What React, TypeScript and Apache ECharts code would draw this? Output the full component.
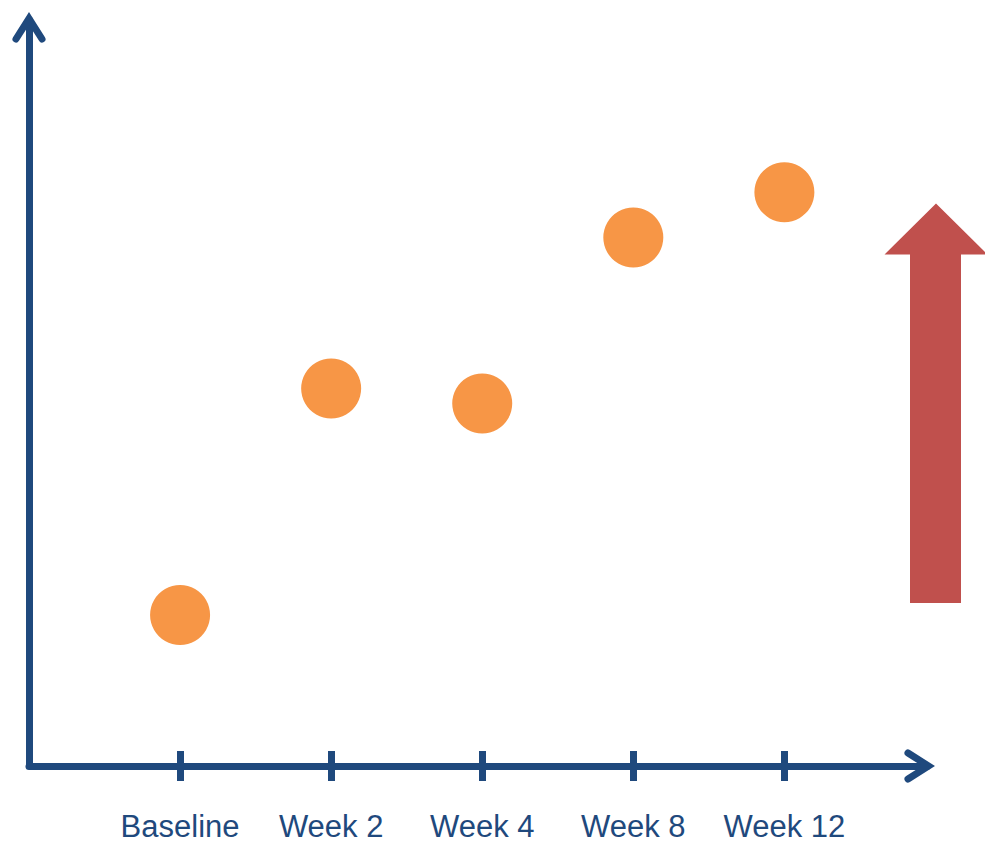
import React, { useEffect, useRef } from "react";
import * as echarts from "echarts";

const categories: string[] = ["Baseline", "Week 2", "Week 4", "Week 8", "Week 12"];
const values: number[] = [20, 50, 48, 70, 76];
const tickPositions: number[] = [0, 1, 2, 3, 4];

const AXIS_BLUE = "#1F497D";
const DOT_ORANGE = "#F79646";
const ARROW_RED = "#C0504D";

const chevron =
  "path://M16.5 0 L32.46 25.13 A3.5 3.5 0 0 1 26.54 28.87 L16.5 13.04 L6.46 28.87 A3.5 3.5 0 0 1 0.54 25.13 Z";

export default function App() {
  const ref = useRef<HTMLDivElement>(null);

  useEffect(() => {
    if (!ref.current) return;
    const chart = echarts.init(ref.current, null, { renderer: "svg" });
    const seriesData = values.map((v, i) => [i, v]);

    chart.setOption({
      animation: false,
      backgroundColor: "#ffffff",
      grid: { left: 29, right: 58, top: 20, bottom: 78, containLabel: false },
      xAxis: [
        {
          type: "value",
          position: "bottom",
          min: -1,
          max: 4.944,
          splitLine: { show: false },
          axisLine: {
            show: true,
            onZero: false,
            symbol: ["none", chevron],
            symbolSize: [33, 30.5],
            symbolOffset: [0, -7.25],
            lineStyle: { color: AXIS_BLUE, width: 7 },
          },
          axisTick: {
            show: true,
            customValues: tickPositions,
            length: 15,
            inside: false,
            lineStyle: { color: AXIS_BLUE, width: 7 },
          },
          axisLabel: {
            show: true,
            customValues: tickPositions,
            formatter: (v: number) => categories[Math.round(v)] ?? "",
            color: AXIS_BLUE,
            fontSize: 31,
            lineHeight: 30,
            fontFamily: "'Liberation Sans Narrow', 'Arial Narrow', 'Liberation Sans', Arial, sans-serif",
            margin: 45,
          },
        },
        {
          type: "value",
          position: "bottom",
          min: -1,
          max: 4.944,
          splitLine: { show: false },
          axisLine: { show: false, onZero: false },
          axisTick: {
            show: true,
            customValues: tickPositions,
            length: 15,
            inside: true,
            lineStyle: { color: AXIS_BLUE, width: 7 },
          },
          axisLabel: { show: false },
        },
      ],
      yAxis: {
        type: "value",
        min: 0,
        max: 98.8,
        splitLine: { show: false },
        axisTick: { show: false },
        axisLabel: { show: false },
        axisLine: {
          show: true,
          onZero: false,
          symbol: ["none", chevron],
          symbolSize: [33, 30.5],
          symbolOffset: [0, -7.25],
          lineStyle: { color: AXIS_BLUE, width: 7 },
        },
      },
      series: [
        {
          type: "scatter",
          xAxisIndex: 0,
          data: seriesData,
          symbol: "circle",
          symbolSize: 60,
          itemStyle: { color: DOT_ORANGE, opacity: 1 },
        },
      ],
      graphic: [
        {
          type: "polygon",
          silent: true,
          shape: {
            points: [
              [936, 203.5],
              [987.5, 254.5],
              [961, 254.5],
              [961, 603],
              [910, 603],
              [910, 254.5],
              [884.5, 254.5],
            ],
          },
          style: { fill: ARROW_RED },
        },
      ],
    });

    return () => chart.dispose();
  }, []);

  return (
    <div
      ref={ref}
      style={{ position: "absolute", left: 0, top: 0, width: 985, height: 844 }}
    />
  );
}
